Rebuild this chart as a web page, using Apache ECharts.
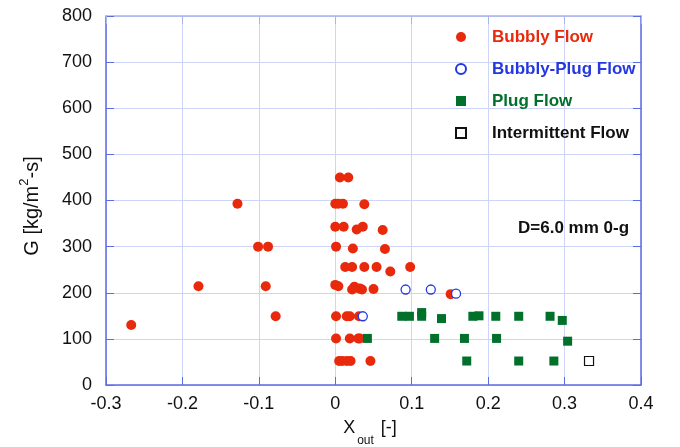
<!DOCTYPE html>
<html>
<head>
<meta charset="utf-8">
<script src="https://cdn.jsdelivr.net/npm/echarts@6/dist/echarts.min.js"></script>
<style>html,body{margin:0;padding:0;background:#fff}#c{width:680px;height:447px}</style>
</head>
<body>
<div id="c"></div>
<script>
// ---- data ----
var xTicks = [-0.3, -0.2, -0.1, 0, 0.1, 0.2, 0.3, 0.4];
var yTicks = [0, 100, 200, 300, 400, 500, 600, 700, 800];
var seriesNames = ['Bubbly Flow', 'Bubbly-Plug Flow', 'Plug Flow', 'Intermittent Flow'];

var bubblyX = [-0.267, -0.179, -0.128, -0.101, -0.088, -0.091, -0.078,
  0.006, 0.017,
  0.000, 0.004, 0.010, 0.038,
  0.000, 0.011, 0.028, 0.036, 0.062,
  0.001, 0.023, 0.065,
  0.013, 0.022, 0.038, 0.054, 0.072, 0.098,
  0.000, 0.004, 0.022, 0.025, 0.032, 0.035, 0.050,
  0.151,
  0.001, 0.015, 0.019, 0.031,
  0.001, 0.019, 0.030, 0.032,
  0.005, 0.009, 0.015, 0.020, 0.046];
var bubblyY = [130, 214, 393, 300, 300, 214, 149,
  450, 450,
  393, 393, 393, 392,
  343, 343, 337, 343, 336,
  300, 296, 295,
  256, 256, 256, 256, 246, 256,
  217, 214, 207, 213, 209, 207, 208,
  197,
  149, 149, 149, 149,
  101, 101, 101, 101,
  52, 52, 52, 52, 52];

var bubblyPlugX = [0.092, 0.125, 0.158, 0.036];
var bubblyPlugY = [207, 207, 198, 149];

var plugX = [0.042, 0.087, 0.097, 0.113, 0.113, 0.139, 0.130, 0.169, 0.172, 0.180, 0.188, 0.210, 0.211, 0.240, 0.281, 0.297, 0.304, 0.240, 0.286];
var plugY = [101, 149, 149, 157, 149, 144, 101, 101, 52, 149, 150, 149, 101, 149, 149, 140, 95, 52, 52];

var interX = [0.332];
var interY = [52];

// ---- build ----
function pairs(xs, ys) { return xs.map(function (x, i) { return [x, ys[i]]; }); }

var FONT = "'Liberation Sans', Arial, sans-serif";
var AX = '#5b6de4';
var AX_LIGHT = '#a9b4f0';
var GRID = '#cdd4f7';
var RED = '#e8290b', BLUE = '#2438e0', GREEN = '#00702a', BLACK = '#111111';

var chart = echarts.init(document.getElementById('c'));
var baseX = { type: 'value', min: xTicks[0], max: xTicks[xTicks.length - 1], interval: 0.1 };
var baseY = { type: 'value', min: yTicks[0], max: yTicks[yTicks.length - 1], interval: 100 };
chart.setOption({
  animation: false,
  backgroundColor: '#fff',
  textStyle: { fontFamily: FONT },
  grid: { left: 106, right: 39, top: 16, bottom: 62, containLabel: false, outerBoundsMode: 'none' },
  xAxis: [
    Object.assign({}, baseX, {
      position: 'bottom',
      axisLine: { onZero: false, lineStyle: { color: AX, width: 1.5 } },
      axisTick: { inside: true, length: 8, lineStyle: { color: AX } },
      splitLine: { show: true, lineStyle: { color: GRID, width: 1 } },
      axisLabel: { fontSize: 18, color: '#111', margin: 10, fontFamily: FONT,
        formatter: function (v) { var r = Math.round(v * 10) / 10; return r === 0 ? '0' : String(r); } }
    }),
    Object.assign({}, baseX, {
      position: 'top',
      axisLine: { onZero: false, lineStyle: { color: AX_LIGHT, width: 1.5 } },
      axisTick: { inside: true, length: 8, lineStyle: { color: AX_LIGHT } },
      splitLine: { show: false }, axisLabel: { show: false }
    })
  ],
  yAxis: [
    Object.assign({}, baseY, {
      position: 'left',
      axisLine: { show: true, onZero: false, lineStyle: { color: AX, width: 1.5 } },
      axisTick: { show: true, inside: true, length: 8, lineStyle: { color: AX } },
      splitLine: { show: true, lineStyle: { color: GRID, width: 1 } },
      axisLabel: { fontSize: 18, color: '#111', margin: 14, fontFamily: FONT }
    }),
    Object.assign({}, baseY, {
      position: 'right',
      axisLine: { show: true, onZero: false, lineStyle: { color: AX, width: 1.5 } },
      axisTick: { show: true, inside: true, length: 8, lineStyle: { color: AX } },
      splitLine: { show: false }, axisLabel: { show: false }
    })
  ],
  legend: {
    orient: 'vertical', left: 450, top: 23,
    itemWidth: 10, itemHeight: 10, itemGap: 14,
    textStyle: { fontSize: 17, fontWeight: 'bold', fontFamily: FONT, lineHeight: 18, padding: [0, 0, 0, 21] },
    data: [
      { name: seriesNames[0], textStyle: { color: RED } },
      { name: seriesNames[1], textStyle: { color: BLUE } },
      { name: seriesNames[2], textStyle: { color: GREEN } },
      { name: seriesNames[3], textStyle: { color: BLACK } }
    ]
  },
  graphic: [
    { type: 'text', left: 518, top: 220, silent: true,
      style: { text: 'D=6.0 mm 0-g', font: 'bold 17px ' + FONT, fill: '#111' } },
    { type: 'text', x: 30, y: 206, rotation: Math.PI / 2, silent: true,
      style: {
        text: '{a|G [kg/m}{s|2}{a|-s]}', align: 'center', verticalAlign: 'middle',
        rich: {
          a: { fontSize: 20, fill: '#111', fontFamily: FONT, verticalAlign: 'bottom', lineHeight: 24 },
          s: { fontSize: 13, fill: '#111', fontFamily: FONT, verticalAlign: 'top', lineHeight: 24 }
        }
      } },
    { type: 'text', x: 370, y: 433, silent: true,
      style: {
        text: '{a|X}{s|out}{a| [-]}', align: 'center', verticalAlign: 'middle',
        rich: {
          a: { fontSize: 18, fill: '#111', fontFamily: FONT, verticalAlign: 'top', lineHeight: 27 },
          s: { fontSize: 12, fill: '#111', fontFamily: FONT, verticalAlign: 'bottom', lineHeight: 27, padding: [0, 2, 0, 2] }
        }
      } }
  ],
  series: [
    { name: seriesNames[0], type: 'scatter', symbol: 'circle', symbolSize: 10,
      itemStyle: { color: RED, opacity: 1 }, data: pairs(bubblyX, bubblyY) },
    { name: seriesNames[1], type: 'scatter', symbol: 'circle', symbolSize: 9,
      itemStyle: { color: '#fff', borderColor: BLUE, borderWidth: 1.3, opacity: 1 }, data: pairs(bubblyPlugX, bubblyPlugY) },
    { name: seriesNames[2], type: 'scatter', symbol: 'rect', symbolSize: 9,
      itemStyle: { color: GREEN, opacity: 1 }, data: pairs(plugX, plugY) },
    { name: seriesNames[3], type: 'scatter', symbol: 'rect', symbolSize: 9,
      itemStyle: { color: '#fff', borderColor: BLACK, borderWidth: 1.2, opacity: 1 }, data: pairs(interX, interY) }
  ]
});
</script>
</body>
</html>
